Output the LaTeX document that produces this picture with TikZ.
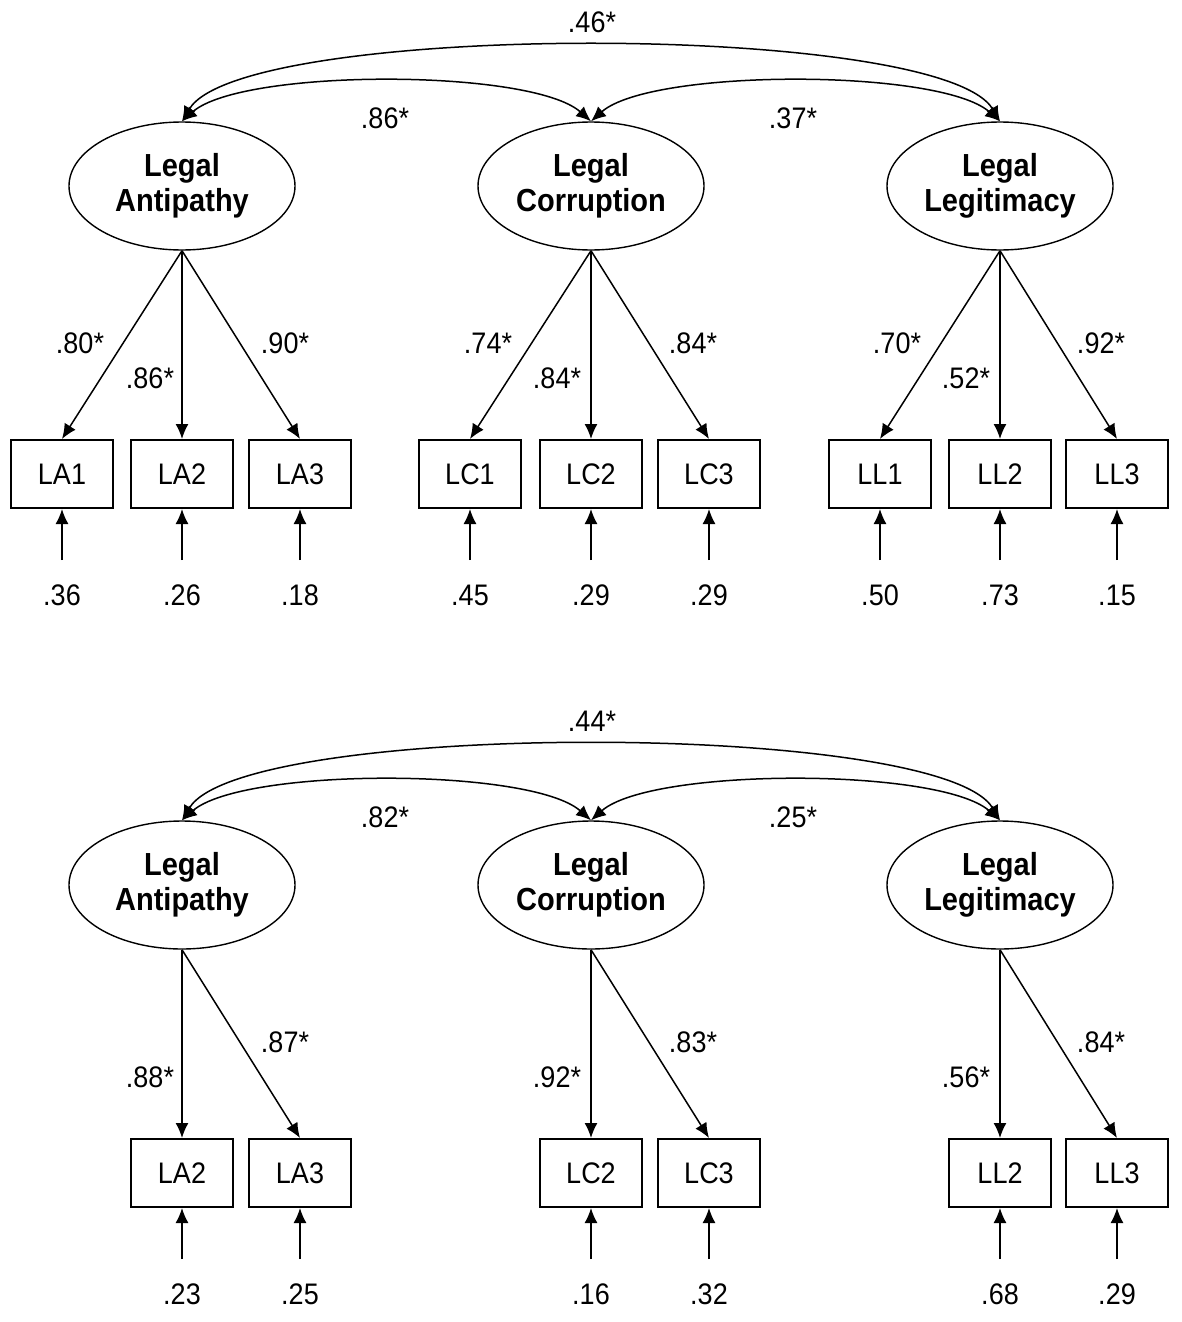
\documentclass[tikz,border=0pt]{standalone}
\usepackage{fontspec}
\setmainfont{Liberation Sans}
\usetikzlibrary{arrows.meta,shapes.geometric}
\newcommand{\vs}[1]{\scalebox{1}[1.1]{#1}}
\begin{document}
\begin{tikzpicture}[x=1pt,y=-1pt,
  lat/.style={draw, ellipse, line width=1.4pt, minimum width=226pt, minimum height=128pt, inner sep=0pt, align=center, font=\bfseries\fontsize{29}{35}\selectfont},
  obs/.style={draw, rectangle, line width=2pt, minimum width=102pt, minimum height=68pt, inner sep=0pt, font=\fontsize{27}{30}\selectfont},
  lbl/.style={font=\fontsize{27}{30}\selectfont, inner sep=0pt},
  arr/.style={-{Latex[length=15pt,width=13pt]}, line width=1.5pt},
  cov/.style={{Latex[length=15pt,width=13pt]}-{Latex[length=15pt,width=13pt]}, line width=1.5pt}]
\useasboundingbox (0,0) rectangle (1181,1322);

% ---------- top panel ----------
\node[lat] (tLA) at (182,186) {\vs{Legal}\\\vs{Antipathy}};
\node[lat] (tLC) at (591,186) {\vs{Legal}\\\vs{Corruption}};
\node[lat] (tLL) at (1000,186) {\vs{Legal}\\\vs{Legitimacy}};

\foreach \n/\x in {LA1/62, LA2/182, LA3/300, LC1/470, LC2/591, LC3/709, LL1/880, LL2/1000, LL3/1117}
  \node[obs] (t\n) at (\x,474) {\vs{\n}};

\foreach \l/\n in {LA/LA1, LA/LA2, LA/LA3, LC/LC1, LC/LC2, LC/LC3, LL/LL1, LL/LL2, LL/LL3}
  \draw[arr] (t\l.south) -- (t\n.north);

\foreach \x/\y/\v in {80/343/.80*, 150/378/.86*, 285/343/.90*, 488/343/.74*, 557/378/.84*, 693/343/.84*, 897/343/.70*, 966/378/.52*, 1101/343/.92*}
  \node[lbl] at (\x,\y) {\vs{\v}};

\foreach \n/\x/\v in {LA1/62/.36, LA2/182/.26, LA3/300/.18, LC1/470/.45, LC2/591/.29, LC3/709/.29, LL1/880/.50, LL2/1000/.73, LL3/1117/.15}{
  \coordinate (te\n) at (\x,560);
  \node[lbl] (tv\n) at (\x,595) {\vs{\v}};
  \draw[arr] (te\n) -- (t\n.south);
}

\draw[cov] (tLA.north) .. controls +(60,-100) and +(-60,-100) .. (tLL.north);
\draw[cov] (tLA.north) .. controls +(60,-53) and +(-60,-53) .. (tLC.north);
\draw[cov] (tLC.north) .. controls +(60,-53) and +(-60,-53) .. (tLL.north);
\node[lbl] at (592,22) {\vs{.46*}};
\node[lbl] at (385,118) {\vs{.86*}};
\node[lbl] at (793,118) {\vs{.37*}};

% ---------- bottom panel ----------
\node[lat] (bLA) at (182,885) {\vs{Legal}\\\vs{Antipathy}};
\node[lat] (bLC) at (591,885) {\vs{Legal}\\\vs{Corruption}};
\node[lat] (bLL) at (1000,885) {\vs{Legal}\\\vs{Legitimacy}};

\foreach \n/\x in {LA2/182, LA3/300, LC2/591, LC3/709, LL2/1000, LL3/1117}
  \node[obs] (b\n) at (\x,1173) {\vs{\n}};

\foreach \l/\n in {LA/LA2, LA/LA3, LC/LC2, LC/LC3, LL/LL2, LL/LL3}
  \draw[arr] (b\l.south) -- (b\n.north);

\foreach \x/\y/\v in {150/1077/.88*, 285/1042/.87*, 557/1077/.92*, 693/1042/.83*, 966/1077/.56*, 1101/1042/.84*}
  \node[lbl] at (\x,\y) {\vs{\v}};

\foreach \n/\x/\v in {LA2/182/.23, LA3/300/.25, LC2/591/.16, LC3/709/.32, LL2/1000/.68, LL3/1117/.29}{
  \coordinate (be\n) at (\x,1259);
  \node[lbl] (bv\n) at (\x,1294) {\vs{\v}};
  \draw[arr] (be\n) -- (b\n.south);
}

\draw[cov] (bLA.north) .. controls +(60,-100) and +(-60,-100) .. (bLL.north);
\draw[cov] (bLA.north) .. controls +(60,-53) and +(-60,-53) .. (bLC.north);
\draw[cov] (bLC.north) .. controls +(60,-53) and +(-60,-53) .. (bLL.north);
\node[lbl] at (592,721) {\vs{.44*}};
\node[lbl] at (385,817) {\vs{.82*}};
\node[lbl] at (793,817) {\vs{.25*}};
\end{tikzpicture}
\end{document}
